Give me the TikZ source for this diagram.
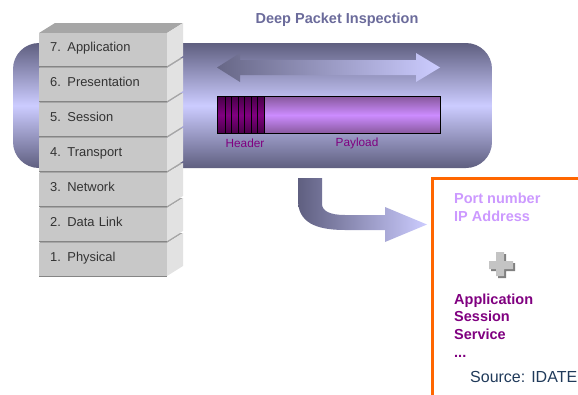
\documentclass[tikz,border=0pt]{standalone}
\usepackage{fontspec}
\setmainfont{Liberation Sans}
\definecolor{tubedark}{HTML}{5F5F80}
\definecolor{tubelight}{HTML}{CCCCFF}
\definecolor{titlecol}{HTML}{6B6B9B}
\definecolor{frontcol}{HTML}{C8C8C8}
\definecolor{sidecol}{HTML}{E2E2E2}
\definecolor{topcol}{HTML}{A6A6A6}
\definecolor{laytext}{HTML}{333333}
\definecolor{purp}{HTML}{800080}
\definecolor{lilac}{HTML}{CC99FF}
\definecolor{paydark}{HTML}{8A5AA0}
\definecolor{paylight}{HTML}{CC8CFF}
\definecolor{hdrdark}{HTML}{4A004A}
\definecolor{orangeline}{HTML}{FF6600}
\definecolor{sourcecol}{HTML}{203A5A}
\definecolor{plusfg}{HTML}{C4C4C4}
\definecolor{plusbg}{HTML}{808080}
\tikzset{
  tube/.style={rectangle, rounded corners=26pt, minimum width=479pt, minimum height=125pt,
    top color=tubedark, bottom color=tubedark, middle color=tubelight, inner sep=0pt},
  layerbox/.style={rectangle, fill=frontcol, minimum width=128pt, minimum height=33pt,
    inner sep=0pt, anchor=north west, text width=116pt, align=left,
    text height=9pt, text depth=6pt, text=laytext, font=\fontsize{12.9}{14}\selectfont},
  sideface/.style={fill=sidecol},
  topface/.style={fill=topcol},
  pklabel/.style={text=purp, font=\fontsize{11.8}{13}\selectfont, inner sep=0pt},
  boxtext/.style={anchor=north west, inner sep=0pt, align=left, font=\bfseries\fontsize{14.5}{17.5}\selectfont},
}
\begin{document}
\begin{tikzpicture}[x=1pt,y=-1pt]
\useasboundingbox (0,0) rectangle (578,394);
% tube
\node[tube] (tube) at (252.5,105.5) {};
% title
\node[text=titlecol, font=\bfseries\fontsize{14.5}{17}\selectfont] (title) at (337,20) {Deep Packet Inspection};
% double arrow
\path[left color=tubedark!95, right color=tubelight]
  (217,67.5) -- (240,53) -- (240,60) -- (416,60) -- (416,53) -- (440,67.5)
  -- (416,82) -- (416,75) -- (240,75) -- (240,82) -- cycle;
% packet
\node[rectangle, minimum width=222pt, minimum height=36pt, inner sep=0pt,
  top color=paydark, bottom color=paydark, middle color=paylight] (payload) at (329,115) {};
\node[rectangle, minimum width=46pt, minimum height=36pt, inner sep=0pt,
  top color=hdrdark, bottom color=hdrdark, middle color=purp] (header) at (241,115) {};
\foreach \xx in {225,231.5,238,244.5,251,257.5}
  \draw[black, line width=0.9pt] (\xx,97) -- (\xx,133);
\draw[black, line width=0.9pt] (header.north east) -- (header.south east);
\draw[black, line width=1pt] (payload.north west) rectangle (payload.south east);
\node[pklabel] (hdrlabel) at (245,143) {Header};
\node[pklabel] (paylabel) at (357,143) {Payload};
% OSI stack, drawn from bottom layer upward
\foreach \k/\t/\txt in {1/243/1. Physical, 2/208/2. Data Link, 3/173/3. Network,
  4/138/4. Transport, 5/103/5. Session, 6/68/6. Presentation, 7/33/7. Application}{
  \path[topface] (39,\t) -- (55,\t-10) -- (183,\t-10) -- (167,\t) -- cycle;
  \path[sideface] (167,\t) -- (183,\t-10) -- (183,\t+23) -- (167,\t+33) -- cycle;
  \node[layerbox] (layer\k) at (39,\t) {\hspace*{5pt}\txt};
  \draw[topcol!80!black, line width=0.8pt] (layer\k.south west) -- (layer\k.south east);
}
% curved arrow
\path[left color=tubedark, right color=tubelight]
  (298,178) -- (322,178) -- (322,204)
  .. controls (322,211) and (330,215) .. (345,215)
  -- (385,215) -- (385,207) -- (427,224.5) -- (385,242) -- (385,230) -- (345,230)
  .. controls (315,230) and (298,222) .. (298,200) -- cycle;
% orange frame
\draw[orangeline, line width=3pt] (582,178) -- (432,178) -- (432,398);
% box texts
\node[boxtext, text=lilac] (addr) at (454,192.8) {Port number\\IP Address};
% plus sign
\path[fill=plusbg] (491,263) rectangle (515,271) (498,254) rectangle (506,278);
\path[fill=plusfg] (489,261) rectangle (513,269) (496,252) rectangle (504,276);
\node[boxtext, text=purp, font=\bfseries\fontsize{14.5}{17.6}\selectfont] (apps) at (454,293.5) {Application\\Session\\Service\\...};
\node[anchor=north west, inner sep=0pt, text=sourcecol, font=\fontsize{16}{18}\selectfont] (source) at (470,371.5) {Source: IDATE};
\end{tikzpicture}
\end{document}
